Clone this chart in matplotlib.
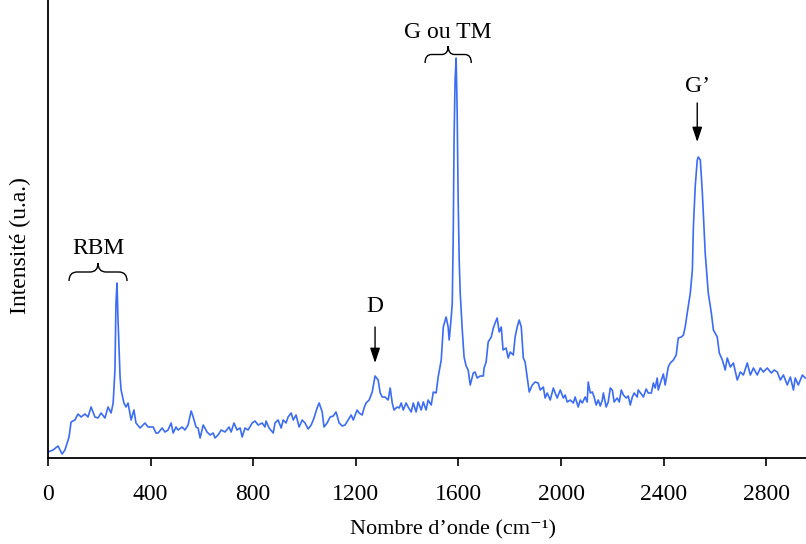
import matplotlib
matplotlib.use("Agg")
import matplotlib.pyplot as plt
from matplotlib.path import Path
from matplotlib.patches import PathPatch

plt.rcParams['font.family'] = ['Liberation Serif', 'DejaVu Serif']

# spectre Raman (nombre d'onde en cm-1, intensité en u.a.)
wavenumber = [
    0, 20, 39, 55, 66, 82, 90, 105, 117, 129, 144, 156, 168, 183, 195, 207, 222, 234, 246, 254,
    261, 265, 269, 273, 281, 285, 296, 304, 312, 324, 335, 343, 359, 378, 390, 410, 421,
    429, 445, 456, 468, 480, 488, 499, 507, 523, 534, 546, 558, 566, 577, 585, 593, 605, 620,
    632, 644, 651, 663, 675, 690, 706, 714, 725, 737, 749, 757, 768, 780, 796, 807, 819, 835,
    846, 850, 862, 878, 885, 897, 909, 917, 928, 936, 948, 956, 967, 979, 991, 1002, 1014,
    1026, 1037, 1049, 1057, 1069, 1076, 1088, 1100, 1112, 1123, 1135, 1147, 1158, 1170, 1182,
    1190, 1205, 1213, 1225, 1232, 1240, 1252, 1264, 1275, 1287, 1295, 1303, 1314, 1326, 1334,
    1342, 1349, 1361, 1369, 1377, 1385, 1396, 1404, 1416, 1424, 1435, 1443, 1455, 1463, 1474,
    1482, 1494, 1502, 1513, 1521, 1533, 1541, 1552, 1560, 1564, 1572, 1576, 1580, 1583, 1587,
    1591, 1595, 1599, 1603, 1607, 1615, 1622, 1630, 1638, 1646, 1658, 1665, 1673, 1685, 1697,
    1700, 1708, 1716, 1728, 1736, 1743, 1751, 1759, 1767, 1774, 1786, 1794, 1802, 1814, 1821,
    1829, 1837, 1845, 1853, 1860, 1868, 1876, 1888, 1899, 1911, 1919, 1931, 1938, 1946, 1958,
    1970, 1977, 1985, 1997, 2009, 2016, 2024, 2036, 2048, 2055, 2067, 2075, 2083, 2094, 2102,
    2106, 2114, 2122, 2129, 2137, 2145, 2153, 2161, 2165, 2176, 2184, 2192, 2200, 2207, 2219,
    2227, 2235, 2243, 2254, 2262, 2270, 2278, 2285, 2297, 2301, 2313, 2321, 2332, 2340, 2352,
    2360, 2367, 2375, 2379, 2391, 2399, 2406, 2418, 2426, 2438, 2449, 2457, 2469, 2477, 2484,
    2492, 2504, 2512, 2516, 2523, 2531, 2535, 2543, 2551, 2562, 2574, 2586, 2594, 2609, 2617,
    2629, 2640, 2648, 2660, 2672, 2687, 2699, 2711, 2726, 2738, 2750, 2765, 2777, 2789, 2804,
    2820, 2831, 2843, 2855, 2867, 2882, 2894, 2906, 2913, 2925, 2941, 2952,
]
intensity = [
    6, 8, 12, 4, 8, 21, 36, 38, 44, 41, 44, 41, 51, 41, 40, 45, 40, 51, 45, 55,
    88, 155, 175, 138, 81, 68, 55, 51, 55, 38, 48, 35, 30, 35, 31, 31, 25,
    25, 30, 26, 28, 35, 25, 31, 28, 31, 28, 33, 47, 41, 31, 30, 20, 33, 26,
    23, 25, 20, 23, 28, 26, 31, 26, 35, 28, 30, 21, 30, 28, 35, 37, 33, 35,
    31, 37, 30, 25, 35, 38, 30, 38, 35, 41, 45, 38, 43, 31, 38, 35, 29,
    33, 40, 50, 55, 46, 31, 35, 41, 42, 46, 35, 32, 33, 38, 43,
    38, 48, 45, 43, 50, 55, 58, 66, 82, 78, 65, 61, 61, 58, 70,
    55, 48, 51, 50, 55, 48, 55, 51, 46, 55, 46, 56, 48, 56, 48,
    58, 53, 66, 65, 81, 98, 131, 141, 131, 118, 141, 155, 228, 318, 378,
    400, 348, 258, 198, 165, 128, 101, 92, 88, 73, 85, 86, 80, 82, 82,
    90, 96, 116, 121, 130, 135, 140, 126, 131, 108, 110, 100, 106, 103, 121,
    131, 138, 131, 100, 96, 81, 66, 73, 76, 75, 68, 71, 60, 65, 58,
    70, 65, 60, 68, 60, 63, 56, 58, 55, 61, 51, 58, 55, 61, 56,
    76, 65, 66, 61, 53, 58, 52, 58, 65, 51, 56, 70, 68, 56, 60,
    56, 68, 63, 60, 62, 53, 61, 65, 61, 68, 64, 61, 69, 65, 65,
    75, 70, 80, 68, 78, 84, 73, 91, 95, 98, 103, 120, 121, 123, 131,
    145, 165, 188, 231, 271, 298, 301, 298, 265, 205, 165, 145, 128, 121, 105,
    98, 88, 100, 91, 95, 78, 86, 83, 95, 83, 90, 83, 90, 86, 90,
    85, 88, 86, 78, 83, 73, 81, 68, 80, 73, 83, 80,
]

xticks = [0, 400, 800, 1200, 1600, 2000, 2400, 2800]


def draw_brace(ax, x0, x1, y0, h):
    """accolade horizontale, pointe vers le haut"""
    xc = (x0 + x1) / 2
    r = (x1 - x0) * 0.14
    ym = y0 + h / 2
    verts = [(x0, y0), (x0, ym), (x0 + r, ym), (xc - r, ym), (xc, ym), (xc, y0 + h),
             (xc, ym), (xc + r, ym), (x1 - r, ym), (x1, ym), (x1, y0)]
    codes = [Path.MOVETO, Path.CURVE3, Path.CURVE3, Path.LINETO, Path.CURVE3, Path.CURVE3,
             Path.CURVE3, Path.CURVE3, Path.LINETO, Path.CURVE3, Path.CURVE3]
    ax.add_patch(PathPatch(Path(verts, codes), fill=False, lw=1.0, color='black'))


fig = plt.figure(figsize=(8.06, 5.44), dpi=100)
ax = fig.add_axes([48 / 806, 1 - 458 / 544, 758 / 806, 458 / 544])

ax.plot(wavenumber, intensity, color='#3b6cf4', lw=1.2)

ax.set_xlim(0, 2955)
ax.set_ylim(0, 458)
ax.set_xticks(xticks)
ax.set_yticks([])
ax.spines['top'].set_visible(False)
ax.spines['right'].set_visible(False)
ax.spines['left'].set_linewidth(1.3)
ax.spines['bottom'].set_linewidth(1.3)
ax.tick_params(axis='x', direction='out', length=6, width=1.2, pad=13, labelsize=17)

ax.set_xlabel('Nombre d’onde (cm⁻¹)', fontsize=16)
ax.xaxis.set_label_coords(0.534, -0.136)
ax.set_ylabel('Intensité (u.a.)', fontsize=17)
ax.yaxis.set_label_coords(-0.022, 0.463)

# annotations des bandes
draw_brace(ax, 82, 308, 177, 18)
ax.text(195, 209, 'RBM', ha='center', va='center', fontsize=17)

draw_brace(ax, 1470, 1650, 395, 17)
ax.text(1560, 425, 'G ou TM', ha='center', va='center', fontsize=17)

arrow = dict(arrowstyle='-|>,head_length=0.9,head_width=0.3', color='black', lw=1.0,
             shrinkA=0, shrinkB=0)
ax.annotate('', xy=(1275, 95), xytext=(1275, 131), arrowprops=arrow)
ax.text(1275, 152, 'D', ha='center', va='center', fontsize=17)

ax.annotate('', xy=(2531, 316), xytext=(2531, 355), arrowprops=arrow)
ax.text(2531, 371, 'G’', ha='center', va='center', fontsize=17)

plt.savefig('out.png', dpi=100)
plt.close()
